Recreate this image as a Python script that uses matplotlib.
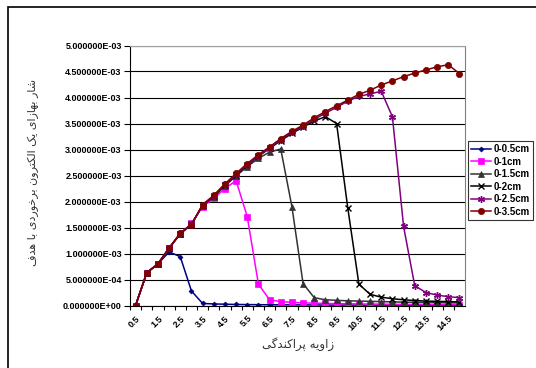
import matplotlib.pyplot as plt
from matplotlib.ticker import FixedLocator, FuncFormatter
from matplotlib.patches import Rectangle
import numpy as np

# scattering angles (categories)
angles = [0.5 * (i + 1) for i in range(30)]

s_05 = [0, 6.3e-4, 8.0e-4, 1.03e-3, 9.4e-4, 2.8e-4, 4e-5, 3e-5, 2.5e-5, 2e-5,
        1.8e-5, 1.6e-5, 1.4e-5, 1.3e-5, 1.2e-5, 1.1e-5, 1e-5, 9e-6, 8e-6, 8e-6,
        7e-6, 7e-6, 6e-6, 6e-6, 5e-6, 5e-6, 5e-6, 4e-6, 4e-6, 4e-6]
s_1 = [0, 6.3e-4, 8.0e-4, 1.10e-3, 1.38e-3, 1.58e-3, 1.90e-3, 2.06e-3, 2.25e-3, 2.40e-3,
       1.71e-3, 4.1e-4, 1.1e-4, 7.5e-5, 6e-5, 5e-5, 4.5e-5, 4e-5, 3.6e-5, 3.3e-5,
       3e-5, 2.8e-5, 2.6e-5, 2.4e-5, 2.2e-5, 2.1e-5, 2e-5, 1.9e-5, 1.8e-5, 1.7e-5]
s_15 = [0, 6.3e-4, 8.0e-4, 1.10e-3, 1.38e-3, 1.56e-3, 1.92e-3, 2.09e-3, 2.30e-3, 2.49e-3,
        2.67e-3, 2.83e-3, 2.95e-3, 3.01e-3, 1.90e-3, 4.2e-4, 1.5e-4, 1.1e-4, 1.0e-4, 9e-5,
        8.5e-5, 8e-5, 7.5e-5, 7e-5, 6.5e-5, 6e-5, 5.8e-5, 5.5e-5, 5.3e-5, 5e-5]
s_2 = [0, 6.3e-4, 8.0e-4, 1.10e-3, 1.38e-3, 1.56e-3, 1.93e-3, 2.10e-3, 2.32e-3, 2.51e-3,
       2.70e-3, 2.87e-3, 3.02e-3, 3.17e-3, 3.31e-3, 3.43e-3, 3.55e-3, 3.63e-3, 3.50e-3, 1.88e-3,
       4.1e-4, 2.15e-4, 1.6e-4, 1.3e-4, 1.1e-4, 9.5e-5, 8.5e-5, 8e-5, 7.5e-5, 7e-5]
s_25 = [0, 6.3e-4, 8.0e-4, 1.10e-3, 1.39e-3, 1.56e-3, 1.93e-3, 2.11e-3, 2.33e-3, 2.52e-3,
        2.71e-3, 2.88e-3, 3.03e-3, 3.19e-3, 3.33e-3, 3.45e-3, 3.58e-3, 3.70e-3, 3.81e-3, 3.93e-3,
        4.02e-3, 4.07e-3, 4.12e-3, 3.63e-3, 1.52e-3, 3.8e-4, 2.5e-4, 2.0e-4, 1.7e-4, 1.5e-4]
s_35 = [0, 6.3e-4, 8.0e-4, 1.11e-3, 1.39e-3, 1.55e-3, 1.94e-3, 2.12e-3, 2.34e-3, 2.54e-3,
        2.73e-3, 2.90e-3, 3.05e-3, 3.21e-3, 3.35e-3, 3.47e-3, 3.61e-3, 3.73e-3, 3.84e-3, 3.95e-3,
        4.06e-3, 4.14e-3, 4.24e-3, 4.32e-3, 4.40e-3, 4.47e-3, 4.53e-3, 4.59e-3, 4.63e-3, 4.46e-3]

series_names = ['0-0.5cm', '0-1cm', '0-1.5cm', '0-2cm', '0-2.5cm', '0-3.5cm']

ylabel_fa = 'شار بهازای یک الکترون برخوردی با هدف'
xlabel_fa = 'زاویه پراکندگی'

# --- minimal persian shaping (matplotlib has no complex text layout) ---
# char: (isolated, final, initial, medial); right-joining letters have 2 forms
FORMS = {
    'ا': (0xFE8D, 0xFE8E), 'د': (0xFEA9, 0xFEAA), 'ر': (0xFEAD, 0xFEAE),
    'ز': (0xFEAF, 0xFEB0), 'و': (0xFEED, 0xFEEE),
    'ب': (0xFE8F, 0xFE90, 0xFE91, 0xFE92), 'ت': (0xFE95, 0xFE96, 0xFE97, 0xFE98),
    'خ': (0xFEA5, 0xFEA6, 0xFEA7, 0xFEA8), 'ش': (0xFEB5, 0xFEB6, 0xFEB7, 0xFEB8),
    'ف': (0xFED1, 0xFED2, 0xFED3, 0xFED4), 'ل': (0xFEDD, 0xFEDE, 0xFEDF, 0xFEE0),
    'ن': (0xFEE5, 0xFEE6, 0xFEE7, 0xFEE8), 'ه': (0xFEE9, 0xFEEA, 0xFEEB, 0xFEEC),
    'پ': (0xFB56, 0xFB57, 0xFB58, 0xFB59), 'ک': (0xFB8E, 0xFB8F, 0xFB90, 0xFB91),
    'گ': (0xFB92, 0xFB93, 0xFB94, 0xFB95), 'ی': (0xFBFC, 0xFBFD, 0xFBFE, 0xFBFF),
}


def shape(text):
    out = []
    for i, ch in enumerate(text):
        if ch not in FORMS:
            out.append(ch)
            continue
        prev = text[i - 1] if i > 0 else ''
        nxt = text[i + 1] if i + 1 < len(text) else ''
        f = FORMS[ch]
        join_prev = prev in FORMS and len(FORMS[prev]) == 4
        join_next = len(f) == 4 and nxt in FORMS
        if join_prev and join_next:
            out.append(chr(f[3]))
        elif join_prev:
            out.append(chr(f[1]))
        elif join_next:
            out.append(chr(f[2]))
        else:
            out.append(chr(f[0]))
    return ''.join(out)[::-1]


plt.rcParams['font.family'] = ['Liberation Sans', 'DejaVu Sans']

fig = plt.figure(figsize=(5.36, 3.68), dpi=100)
ax = fig.add_axes([130 / 536, 1 - 305.5 / 368, 335 / 536, 260 / 368])

x = np.arange(len(angles))
styles = [
    (s_05, '#000080', 'D', 2.5, 0.5),
    (s_1, '#FF00FF', 's', 4.5, 0.5),
    (s_15, '#333333', '^', 4.5, 0.5),
    (s_2, '#000000', 'x', 4.0, 1.0),
    (s_25, '#800080', (6, 2, 0), 5.0, 1.0),
    (s_35, '#800000', 'o', 4.5, 0.5),
]
for (vals, col, mk, ms, mw), name in zip(styles, series_names):
    ax.plot(x, vals, color=col, lw=1.1, marker=mk, ms=ms, mew=mw,
            mec=col, mfc=col, label=name)

ax.set_xlim(-0.5, len(angles) - 0.5)
ax.set_ylim(0, 5e-3)

ax.set_yticks(np.arange(0, 5.01e-3, 5e-4))
ax.yaxis.set_major_formatter(FuncFormatter(lambda v, p: '%.6E' % v))
ax.yaxis.grid(True, color='#000000', lw=0.8)
ax.set_axisbelow(True)

ax.xaxis.set_major_locator(FixedLocator(x[::2]))
ax.set_xticklabels([('%g' % a) for a in angles[::2]])
ax.xaxis.set_minor_locator(FixedLocator(x - 0.5))
ax.tick_params(axis='x', which='major', length=0, pad=6, labelsize=6.5)
ax.tick_params(axis='x', which='minor', length=3, width=0.8, direction='out')
ax.tick_params(axis='y', length=4, width=0.8, direction='out', labelsize=6.5, pad=2)
for lab in ax.get_xticklabels():
    lab.set_rotation(45)
    lab.set_ha('right')
    lab.set_va('top')
    lab.set_rotation_mode('anchor')
    lab.set_fontweight('bold')
for lab in ax.get_yticklabels():
    lab.set_fontweight('bold')

ax.spines['left'].set_color('black')
ax.spines['bottom'].set_color('black')
ax.spines['top'].set_color('#A0A0A0')
ax.spines['right'].set_color('#808080')

fig.text(33 / 536, 1 - 173 / 368, shape(ylabel_fa), rotation=90, ha='center', va='center',
         fontsize=8, family='DejaVu Sans', color='#333333')
fig.text(298 / 536, 1 - 344 / 368, shape(xlabel_fa), ha='center', va='center',
         fontsize=8.5, family='DejaVu Sans', color='#333333')

leg = fig.legend(loc='upper left', bbox_to_anchor=(468 / 536, 1 - 141 / 368),
                 frameon=True, fancybox=False, edgecolor='black', fontsize=7,
                 handlelength=2.0, handletextpad=0.3, borderpad=0.35,
                 labelspacing=0.25, borderaxespad=0)
leg.get_frame().set_linewidth(0.8)
for t in leg.get_texts():
    t.set_fontweight('bold')

# outer chart border
fig.patches.append(Rectangle((8 / 536, -0.1), 2.0, 1 - 7 / 368 + 0.1,
                             transform=fig.transFigure, fill=False,
                             edgecolor='black', lw=1.2))

plt.savefig('out.png', dpi=100)
